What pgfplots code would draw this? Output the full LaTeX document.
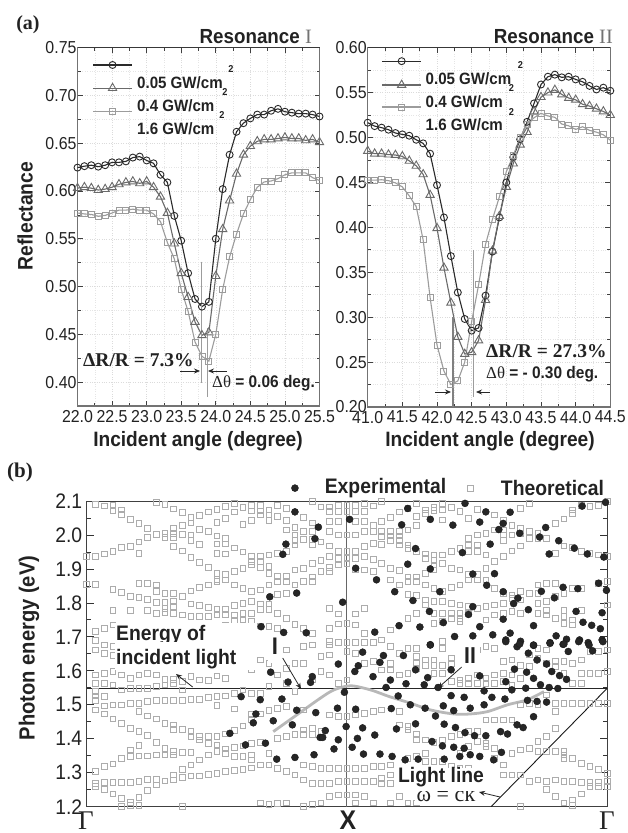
\documentclass[border=0pt]{standalone}
\usepackage{fontspec}
\setmainfont{Liberation Sans}
\newfontfamily\serif{Liberation Serif}
\newfontfamily\condb{Liberation Sans Bold}[FakeStretch=0.92]
\newfontfamily\condr{Liberation Sans}[FakeStretch=0.92]
\usepackage{pgfplots}
\pgfplotsset{compat=1.18}
\usetikzlibrary{arrows.meta}
\definecolor{ink}{HTML}{222222}
\definecolor{cA}{HTML}{2A2A2A}
\definecolor{cB}{HTML}{6A6A6A}
\definecolor{cC}{HTML}{9C9C9C}
\definecolor{sq}{HTML}{ACACAC}
\newcommand{\fs}[1]{\fontsize{#1}{#1}\selectfont}
\pgfplotsset{
 panelA/.style={
  scale only axis, anchor=south west, axis line style={draw=black!55,line width=1.1pt},
  tick style={black!75,line width=0.7pt}, major tick length=5pt, minor tick length=3pt,
  tick align=inside, minor x tick num=1, minor y tick num=1,
  grid=both, major grid style={black!14,dotted,line width=0.5pt}, minor grid style={black!10,dotted,line width=0.5pt},
  ticklabel style={text=ink,font=\condr\fs{17.3}}, 
  /pgf/number format/assume math mode=true,/pgf/number format/fixed,/pgf/number format/fixed zerofill,/pgf/number format/precision=1,
  xticklabel style={yshift=-0.5pt},
  y tick label style={/pgf/number format/precision=2,xshift=2.5pt},
  clip=false,
 },
 sA/.style={cA,line width=1.1pt,mark=o,mark size=3.5pt,mark options={fill=white,line width=0.9pt,solid}},
 sB/.style={cB,line width=1.1pt,mark=triangle,mark size=4.8pt,mark options={fill=white,line width=0.9pt,solid}},
 sC/.style={cC,line width=1.1pt,mark=square,mark size=3pt,mark options={fill=white,line width=0.9pt,solid}},
}
\begin{document}
\begin{tikzpicture}[x=1pt,y=1pt]
\path[use as bounding box] (0,0) rectangle (628,833);

% ------------------ panel a, resonance I
\begin{axis}[panelA,at={(77.5pt,427pt)},width=242pt,height=358.3pt,
 xmin=22,xmax=25.5,ymin=0.375,ymax=0.75,
 xtick={22,22.5,23,23.5,24,24.5,25,25.5},ytick={0.4,0.45,0.5,0.55,0.6,0.65,0.7,0.75}]
\addplot[sA] coordinates {(22.0,.6245)(22.1,.626)(22.2,.627)(22.3,.6255)(22.4,.627)(22.5,.63)(22.6,.630)(22.7,.631)(22.8,.635)(22.9,.636)(23.0,.632)(23.1,.629)(23.2,.617)(23.3,.609)(23.4,.574)(23.5,.548)(23.6,.514)(23.7,.487)(23.8,.479)(23.9,.484)(24.0,.55)(24.1,.602)(24.2,.638)(24.3,.662)(24.4,.671)(24.5,.676)(24.6,.68)(24.7,.68)(24.8,.684)(24.9,.686)(25.0,.683)(25.1,.682)(25.2,.681)(25.3,.681)(25.4,.68)(25.5,.678)};
\addplot[sB] coordinates {(22.0,.603)(22.1,.604)(22.2,.603)(22.3,.601)(22.4,.602)(22.5,.604)(22.6,.607)(22.7,.609)(22.8,.610)(22.9,.608)(23.0,.610)(23.1,.604)(23.2,.594)(23.3,.577)(23.4,.545)(23.5,.514)(23.6,.489)(23.7,.463)(23.8,.449)(23.9,.452)(24.0,.511)(24.1,.56)(24.2,.590)(24.3,.618)(24.4,.638)(24.5,.647)(24.6,.652)(24.7,.654)(24.8,.654)(24.9,.655)(25.0,.656)(25.1,.655)(25.2,.655)(25.3,.653)(25.4,.654)(25.5,.651)};
\addplot[sC] coordinates {(22.0,.577)(22.1,.576)(22.2,.5755)(22.3,.5735)(22.4,.5745)(22.5,.577)(22.6,.58)(22.7,.58)(22.8,.581)(22.9,.580)(23.0,.58)(23.1,.576)(23.2,.568)(23.3,.546)(23.4,.529)(23.5,.497)(23.6,.474)(23.7,.442)(23.8,.427)(23.9,.422)(24.0,.45)(24.1,.497)(24.2,.531)(24.3,.555)(24.4,.576)(24.5,.591)(24.6,.604)(24.7,.6095)(24.8,.6105)(24.9,.613)(25.0,.617)(25.1,.619)(25.2,.619)(25.3,.619)(25.4,.614)(25.5,.611)};
% guide lines
\addplot[cC,line width=1.1pt] coordinates {(23.79,.526)(23.79,.399)};
\addplot[cC,line width=1.1pt] coordinates {(23.88,.4565)(23.88,.384)};
% legend samples
\addplot[cA,line width=1.1pt] coordinates {(22.225,.7319)(22.79,.7319)};
\addplot[cB,line width=1.1pt] coordinates {(22.225,.7077)(22.79,.7077)};
\addplot[cC,line width=1.1pt] coordinates {(22.225,.6836)(22.79,.6836)};
\addplot[sA,only marks] coordinates {(22.507,.7319)};
\addplot[sB,only marks] coordinates {(22.507,.7077)};
\addplot[sC,only marks] coordinates {(22.507,.6836)};
\end{axis}
\draw[black!78,line width=0.9pt] (77.5,785.3) -- (319.5,785.3);

% ------------------ panel a, resonance II
\begin{axis}[panelA,at={(367.7pt,426pt)},width=242.6pt,height=359.3pt,
 xmin=41,xmax=44.5,ymin=0.2,ymax=0.6,
 xtick={41,41.5,42,42.5,43,43.5,44,44.5},ytick={0.2,0.25,0.3,0.35,0.4,0.45,0.5,0.55,0.6}]
\addplot[sA] coordinates {(41.0,.5165)(41.1,.5127)(41.2,.511)(41.3,.5087)(41.4,.505)(41.5,.5035)(41.6,.502)(41.7,.4975)(41.8,.4935)(41.9,.482)(42.0,.447)(42.1,.411)(42.2,.368)(42.3,.3275)(42.4,.298)(42.5,.285)(42.6,.288)(42.7,.324)(42.8,.373)(42.9,.411)(43.0,.45)(43.1,.478)(43.2,.498)(43.3,.5175)(43.4,.538)(43.5,.559)(43.6,.5677)(43.7,.57)(43.8,.567)(43.9,.5677)(44.0,.5647)(44.1,.562)(44.2,.5575)(44.3,.5535)(44.4,.5555)(44.5,.552)};
\addplot[sB] coordinates {(41.0,.485)(41.1,.482)(41.2,.482)(41.3,.481)(41.4,.4805)(41.5,.479)(41.6,.474)(41.7,.4685)(41.8,.459)(41.9,.436)(42.0,.399)(42.1,.355)(42.2,.316)(42.3,.278)(42.4,.259)(42.5,.261)(42.6,.274)(42.7,.319)(42.8,.374)(42.9,.4125)(43.0,.445)(43.1,.471)(43.2,.492)(43.3,.506)(43.4,.529)(43.5,.545)(43.6,.55)(43.7,.553)(43.8,.548)(43.9,.544)(44.0,.542)(44.1,.537)(44.2,.535)(44.3,.532)(44.4,.529)(44.5,.525)};
\addplot[sC] coordinates {(41.0,.4525)(41.1,.4525)(41.2,.453)(41.3,.452)(41.4,.4495)(41.5,.445)(41.6,.435)(41.7,.423)(41.8,.386)(41.9,.322)(42.0,.269)(42.1,.24)(42.2,.225)(42.3,.229)(42.4,.25)(42.5,.295)(42.6,.336)(42.7,.381)(42.8,.409)(42.9,.434)(43.0,.462)(43.1,.48)(43.2,.50)(43.3,.515)(43.4,.522)(43.5,.527)(43.6,.524)(43.7,.5225)(43.8,.515)(43.9,.513)(44.0,.509)(44.1,.512)(44.2,.508)(44.3,.506)(44.4,.503)(44.5,.497)};
\addplot[black!50,line width=1.1pt] coordinates {(42.23,.30)(42.23,.20)};
\addplot[cC,line width=1.1pt] coordinates {(42.53,.375)(42.53,.2115)};
\addplot[cA,line width=1.1pt] coordinates {(41.206,.585)(41.77,.585)};
\addplot[cB,line width=1.1pt] coordinates {(41.206,.5585)(41.77,.5585)};
\addplot[cC,line width=1.1pt] coordinates {(41.206,.534)(41.77,.534)};
\addplot[sA,only marks] coordinates {(41.49,.585)};
\addplot[sB,only marks] coordinates {(41.49,.5585)};
\addplot[sC,only marks] coordinates {(41.49,.534)};
\end{axis}
\draw[black!78,line width=0.9pt] (367.7,785.3) -- (610.3,785.3);

% ------------------ panel b
\begin{axis}[scale only axis,anchor=south west,at={(86.7pt,26.3pt)},width=520.6pt,height=305.7pt,
 xmin=0,xmax=60,ymin=1.2,ymax=2.1,
 axis line style={draw=black!75,line width=1pt},
 xtick=\empty,ytick={1.2,1.3,...,2.11},minor y tick num=1,
 tick align=inside,major tick length=7pt,minor tick length=4pt,tick style={black!80,line width=0.8pt},
 ticklabel style={text=ink,font=\condr\fs{21}},
 /pgf/number format/assume math mode=true,/pgf/number format/fixed,/pgf/number format/fixed zerofill,/pgf/number format/precision=1,
 y tick label style={xshift=-1pt},
]
\addplot[only marks,mark=square,mark size=2.85pt,sq,mark options={line width=0.75pt}] coordinates {
(0,1.938)(0,1.855)
(1,2.091)(1,1.938)(1,1.855)(1,1.716)(1,1.689)(1,1.662)(1,1.588)(1,1.564)(1,1.539)(1,1.526)(1,1.514)(1,1.485)(1,1.304)(1,1.269)(1,1.26)
(2,2.086)(2,1.944)(2,1.725)(2,1.676)(2,1.652)(2,1.593)(2,1.564)(2,1.524)(2,1.497)(2,1.473)(2,1.318)(2,1.271)(2,1.252)
(3,2.088)(3,2.073)(3,1.952)(3,1.84)(3,1.777)(3,1.735)(3,1.672)(3,1.645)(3,1.598)(3,1.559)(3,1.5)(3,1.459)(3,1.326)(3,1.271)(3,1.238)
(4,2.074)(4,2.061)(4,1.963)(4,1.83)(4,1.588)(4,1.544)(4,1.5)(4,1.446)(4,1.343)(4,1.271)(4,1.224)(4,1.201)
(5,2.046)(5,1.967)(5,1.82)(5,1.777)(5,1.578)(5,1.549)(5,1.505)(5,1.431)(5,1.367)(5,1.348)(5,1.271)(5,1.213)(5,1.203)
(6,2.034)(6,1.98)(6,1.946)(6,1.858)(6,1.816)(6,1.588)(6,1.549)(6,1.505)(6,1.48)(6,1.421)(6,1.38)(6,1.35)(6,1.274)(6,1.228)(6,1.203)
(7,2.02)(7,1.992)(7,1.858)(7,1.811)(7,1.777)(7,1.593)(7,1.549)(7,1.51)(7,1.467)(7,1.409)(7,1.35)(7,1.281)(7,1.248)
(8,2.096)(8,2.002)(8,1.853)(8,1.833)(8,1.801)(8,1.77)(8,1.588)(8,1.554)(8,1.512)(8,1.459)(8,1.389)(8,1.353)(8,1.281)(8,1.264)
(9,2.09)(9,2.005)(9,1.992)(9,1.828)(9,1.801)(9,1.784)(9,1.773)(9,1.575)(9,1.559)(9,1.512)(9,1.446)(9,1.372)(9,1.353)(9,1.276)
(10,2.077)(10,2.02)(10,2.005)(10,1.992)(10,1.966)(10,1.828)(10,1.804)(10,1.789)(10,1.77)(10,1.575)(10,1.564)(10,1.512)(10,1.441)(10,1.428)(10,1.363)(10,1.353)(10,1.294)(10,1.279)
(11,2.066)(11,2.029)(11,2.002)(11,1.953)(11,1.82)(11,1.765)(11,1.568)(11,1.544)(11,1.512)(11,1.428)(11,1.36)(11,1.309)(11,1.287)(11,1.201)
(12,2.051)(12,2.036)(12,2.0)(12,1.985)(12,1.934)(12,1.835)(12,1.797)(12,1.76)(12,1.583)(12,1.516)(12,1.421)(12,1.407)(12,1.36)(12,1.323)(12,1.291)
(13,2.058)(13,2.017)(13,1.973)(13,1.919)(13,1.846)(13,1.793)(13,1.76)(13,1.573)(13,1.516)(13,1.407)(13,1.397)(13,1.338)(13,1.291)
(14,2.068)(14,2.01)(14,1.905)(14,1.853)(14,1.787)(14,1.76)(14,1.571)(14,1.522)(14,1.407)(14,1.387)(14,1.353)(14,1.296)
(15,2.076)(15,2.037)(15,1.997)(15,1.974)(15,1.946)(15,1.887)(15,1.87)(15,1.863)(15,1.782)(15,1.765)(15,1.585)(15,1.524)(15,1.498)(15,1.407)(15,1.382)(15,1.363)(15,1.299)
(16,2.085)(16,2.049)(16,1.99)(16,1.974)(16,1.944)(16,1.885)(16,1.868)(16,1.782)(16,1.765)(16,1.735)(16,1.713)(16,1.578)(16,1.526)(16,1.414)(16,1.37)(16,1.358)(16,1.304)
(17,2.093)(17,2.068)(17,1.962)(17,1.892)(17,1.853)(17,1.793)(17,1.765)(17,1.745)(17,1.706)(17,1.534)(17,1.488)(17,1.424)(17,1.375)(17,1.348)(17,1.307)
(18,2.081)(18,2.032)(18,1.95)(18,1.902)(18,1.843)(18,1.799)(18,1.77)(18,1.75)(18,1.696)(18,1.544)(18,1.438)(18,1.379)(18,1.348)(18,1.309)
(19,2.088)(19,2.071)(19,2.042)(19,1.938)(19,1.922)(19,1.912)(19,1.833)(19,1.804)(19,1.77)(19,1.745)(19,1.603)(19,1.534)(19,1.456)(19,1.473)(19,1.387)(19,1.353)(19,1.338)(19,1.314)
(20,2.088)(20,2.071)(20,2.059)(20,1.938)(20,1.922)(20,1.904)(20,1.838)(20,1.797)(20,1.781)(20,1.732)(20,1.632)(20,1.534)(20,1.473)(20,1.39)(20,1.323)(20,1.211)
(21,2.074)(21,2.059)(21,2.042)(21,1.941)(21,1.907)(21,1.887)(21,1.853)(21,1.797)(21,1.781)(21,1.73)(21,1.622)(21,1.554)(21,1.483)(21,1.358)(21,1.323)(21,1.206)
(22,2.088)(22,2.054)(22,1.946)(22,1.879)(22,1.863)(22,1.825)(22,1.77)(22,1.725)(22,1.652)(22,1.588)(22,1.49)(22,1.402)(22,1.313)(22,1.209)
(23,2.078)(23,2.042)(23,2.015)(23,1.951)(23,1.879)(23,1.863)(23,1.828)(23,1.755)(23,1.662)(23,1.608)(23,1.564)(23,1.495)(23,1.407)(23,1.304)(23,1.211)
(24,2.023)(24,2.0)(24,1.985)(24,1.971)(24,1.897)(24,1.853)(24,1.737)(24,1.622)(24,1.539)(24,1.412)(24,1.294)
(25,2.051)(25,2.01)(25,1.987)(25,1.902)(25,1.863)(25,1.725)(25,1.671)(25,1.622)(25,1.485)(25,1.426)(25,1.412)(25,1.323)(25,1.279)(25,1.201)
(26,2.098)(26,2.036)(26,2.01)(26,1.987)(26,1.971)(26,1.917)(26,1.877)(26,1.863)(26,1.711)(26,1.676)(26,1.573)(26,1.431)(26,1.412)(26,1.318)(26,1.269)(26,1.206)
(27,2.083)(27,1.98)(27,1.926)(27,1.892)(27,1.642)(27,1.598)(27,1.421)(27,1.313)(27,1.269)(27,1.211)
(28,2.083)(28,2.069)(28,2.039)(28,2.01)(28,1.968)(28,1.938)(28,1.905)(28,1.892)(28,1.784)(28,1.725)(28,1.686)(28,1.676)(28,1.647)(28,1.588)(28,1.47)(28,1.313)(28,1.269)(28,1.23)
(29,2.088)(29,2.069)(29,2.039)(29,2.0)(29,1.951)(29,1.931)(29,1.912)(29,1.768)(29,1.738)(29,1.683)(29,1.564)(29,1.465)(29,1.313)(29,1.274)(29,1.235)
(30,2.088)(30,2.069)(30,2.0)(30,1.951)(30,1.931)(30,1.917)(30,1.74)(30,1.683)(30,1.657)(30,1.573)(30,1.465)(30,1.313)(30,1.274)(30,1.235)
(31,2.088)(31,2.069)(31,2.039)(31,2.0)(31,1.951)(31,1.931)(31,1.897)(31,1.768)(31,1.735)(31,1.683)(31,1.652)(31,1.47)(31,1.313)(31,1.274)(31,1.235)(31,1.211)
(32,2.093)(32,2.069)(32,2.039)(32,2.01)(32,1.966)(32,1.936)(32,1.897)(32,1.784)(32,1.711)(32,1.683)(32,1.622)(32,1.475)(32,1.313)(32,1.274)(32,1.23)
(33,2.086)(33,2.029)(33,2.01)(33,1.975)(33,1.928)(33,1.892)(33,1.683)(33,1.627)(33,1.48)(33,1.318)(33,1.274)(33,1.211)
(34,2.098)(34,2.041)(34,2.01)(34,1.995)(34,1.973)(34,1.917)(34,1.691)(34,1.603)(34,1.485)(34,1.318)(34,1.284)(34,1.269)
(35,2.052)(35,2.01)(35,1.997)(35,1.985)(35,1.902)(35,1.868)(35,1.721)(35,1.672)(35,1.622)(35,1.603)(35,1.323)(35,1.294)(35,1.269)(35,1.211)
(36,2.068)(36,2.01)(36,1.997)(36,1.985)(36,1.971)(36,1.895)(36,1.853)(36,1.652)(36,1.588)(36,1.48)(36,1.441)(36,1.269)(36,1.23)
(37,2.078)(37,2.015)(37,1.971)(37,1.961)(37,1.877)(37,1.863)(37,1.825)(37,1.755)(37,1.666)(37,1.593)(37,1.436)(37,1.426)(37,1.343)(37,1.299)(37,1.269)(37,1.211)
(38,2.093)(38,2.054)(38,2.029)(38,1.951)(38,1.877)(38,1.863)(38,1.823)(38,1.77)(38,1.666)(38,1.642)(38,1.622)(38,1.608)(38,1.412)(38,1.399)(38,1.348)(38,1.299)(38,1.269)(38,1.211)
(39,2.074)(39,2.064)(39,1.944)(39,1.931)(39,1.887)(39,1.853)(39,1.809)(39,1.794)(39,1.632)(39,1.617)(39,1.397)(39,1.358)(39,1.333)(39,1.279)(39,1.245)
(40,2.081)(40,2.072)(40,1.941)(40,1.926)(40,1.912)(40,1.897)(40,1.843)(40,1.804)(40,1.77)(40,1.74)(40,1.632)(40,1.617)(40,1.593)(40,1.389)(40,1.333)(40,1.299)(40,1.255)
(41,2.093)(41,2.074)(41,2.044)(41,1.941)(41,1.917)(41,1.833)(41,1.804)(41,1.77)(41,1.745)(41,1.686)(41,1.666)(41,1.617)(41,1.593)(41,1.397)(41,1.333)(41,1.304)(41,1.269)
(42,2.081)(42,1.951)(42,1.902)(42,1.846)(42,1.799)(42,1.77)(42,1.755)(42,1.637)(42,1.622)(42,1.568)(42,1.407)(42,1.318)(42,1.284)
(43,2.069)(43,1.961)(43,1.897)(43,1.853)(43,1.794)(43,1.77)(43,1.755)(43,1.745)(43,1.573)(43,1.564)(43,1.412)(43,1.358)(43,1.313)
(44,2.049)(44,1.99)(44,1.971)(44,1.951)(44,1.885)(44,1.868)(44,1.789)(44,1.77)(44,1.652)(44,1.578)(44,1.564)(44,1.421)(44,1.377)(44,1.313)
(45,2.075)(45,2.0)(45,1.971)(45,1.951)(45,1.885)(45,1.868)(45,1.784)(45,1.662)(45,1.588)(45,1.564)(45,1.421)(45,1.392)
(46,2.005)(46,1.941)(46,1.902)(46,1.868)(46,1.789)(46,1.75)(46,1.671)(46,1.578)(46,1.564)(46,1.456)(46,1.387)(46,1.377)
(47,2.059)(47,2.015)(47,1.922)(47,1.843)(47,1.794)(47,1.765)(47,1.666)(47,1.588)(47,1.564)(47,1.456)(47,1.372)(47,1.343)
(48,2.044)(48,2.015)(48,2.0)(48,1.985)(48,1.936)(48,1.828)(48,1.799)(48,1.77)(48,1.627)(48,1.593)(48,1.568)(48,1.456)(48,1.323)(48,1.294)
(49,2.029)(49,2.0)(49,1.953)(49,1.824)(49,1.814)(49,1.775)(49,1.632)(49,1.588)(49,1.559)(49,1.456)(49,1.358)(49,1.294)
(50,2.078)(50,2.02)(50,2.005)(50,1.968)(50,1.833)(50,1.809)(50,1.77)(50,1.617)(50,1.578)(50,1.5)(50,1.367)(50,1.294)(50,1.201)
(51,2.093)(51,2.01)(51,1.99)(51,1.828)(51,1.647)(51,1.613)(51,1.505)(51,1.372)(51,1.274)
(52,2.005)(52,1.99)(52,1.853)(52,1.828)(52,1.799)(52,1.77)(52,1.666)(52,1.637)(52,1.5)(52,1.392)(52,1.363)(52,1.279)
(53,1.99)(53,1.858)(53,1.804)(53,1.779)(53,1.765)(53,1.662)(53,1.622)(53,1.529)(53,1.407)(53,1.363)(53,1.274)(53,1.25)
(54,2.034)(54,1.946)(54,1.858)(54,1.819)(54,1.755)(54,1.627)(54,1.613)(54,1.505)(54,1.48)(54,1.431)(54,1.363)(54,1.279)(54,1.23)
(55,2.047)(55,1.968)(55,1.828)(55,1.779)(55,1.76)(55,1.74)(55,1.627)(55,1.593)(55,1.505)(55,1.363)(55,1.353)(55,1.343)(55,1.274)(55,1.211)
(56,2.074)(56,2.064)(56,1.964)(56,1.843)(56,1.75)(56,1.735)(56,1.622)(56,1.564)(56,1.505)(56,1.343)(56,1.274)(56,1.22)(56,1.203)
(57,2.088)(57,1.951)(57,1.843)(57,1.777)(57,1.632)(57,1.593)(57,1.564)(57,1.505)(57,1.328)(57,1.271)(57,1.238)
(58,2.085)(58,1.946)(58,1.657)(58,1.593)(58,1.505)(58,1.318)(58,1.271)(58,1.26)
(59,2.088)(59,1.941)(59,1.858)(59,1.657)(59,1.593)(59,1.505)(59,1.31)(59,1.271)(59,1.26)
(60,2.098)(60,1.936)(60,1.863)(60,1.794)(60,1.662)(60,1.598)(60,1.505)(60,1.299)(60,1.274)(60,1.26)
};
% vertical line at X, energy of incident light, light line, gray guide curve
\addplot[black!60,line width=0.9pt] coordinates {(29.9,1.2)(29.9,2.1)};
\addplot[black!85,line width=1.1pt] coordinates {(0,1.549)(60,1.549)};
\addplot[black!90,line width=0.9pt] coordinates {(46.6,1.2)(60,1.549)};
\addplot[black!28,line width=2.8pt,smooth] coordinates {(21.5,1.421)(24.2,1.47)(26.9,1.519)(28.5,1.544)(30.4,1.556)(32.7,1.544)(34.9,1.524)(37.3,1.505)(39.6,1.485)(42.3,1.473)(44.2,1.473)(46.2,1.48)(48.5,1.5)(50.8,1.515)(52.7,1.539)};
\addplot[only marks,mark=*,mark size=3.5pt,black!90,mark options={fill=black!85,draw=black!90}] coordinates {
(24,2.068)(22.96,1.973)(22.6,1.943)(26.3,1.989)(26.7,2.023)(21.1,1.818)(24.2,1.829)(20.1,1.73)(22.7,1.713)(25.3,1.712)
(30.3,2.046)(29.5,1.802)(31,1.902)(33.4,1.868)(35.5,1.833)(37.6,1.807)(33.2,1.714)(36,1.733)(38.4,1.729)(39.5,1.775)(41.1,1.742)(39.6,1.677)(42.4,1.701)(44.5,1.703)(45.3,1.73)(44,1.766)(44.5,1.789)(44.5,1.885)(40.7,1.833)(39.6,1.9)(37,1.914)(37.9,1.96)(36.3,2.03)(37,2.078)(39.6,2.046)(42.2,2.029)(43.3,1.948)(43.6,2.093)(46,2.068)(45.3,2.038)(48.8,2.067)(48,2.034)(47.5,2.016)(46.5,1.973)(47,1.886)(46.1,1.852)(48,1.833)(48,1.752)(46.8,1.706)(48.8,1.711)(48.3,1.691)(50,1.687)(51.5,1.675)(49.7,1.814)(49.2,1.798)(50.9,1.78)(51.5,1.733)(52.4,1.834)(53.9,1.815)(54.9,1.846)(56.6,1.842)(59,1.858)(59.9,1.837)(56.4,1.775)(59.4,1.771)(57.2,1.743)(58.2,1.734)(59.2,1.724)(54.1,1.703)(55.3,1.693)(56.8,1.691)(57.8,1.683)(59.4,1.691)(53.4,1.683)(54.9,1.678)(49.9,2.005)(52.2,1.994)(52.9,2.022)(54.4,1.983)(53.3,1.944)(56.2,1.961)(57.7,1.944)(59.6,1.935)(57.1,2.085)(59.8,2.096)
(21.2,1.596)(23.2,1.567)(26,1.583)(25.8,1.566)(17.8,1.524)(20,1.515)(22.5,1.517)(24.2,1.484)(19.5,1.473)(26.4,1.477)(19.2,1.447)(21.5,1.453)(23.7,1.441)(16.5,1.416)(18.3,1.382)(20.6,1.387)(21.9,1.34)(24,1.345)(26.2,1.353)(26.9,1.404)
(29.7,1.537)(28.9,1.49)(31,1.487)(35.1,1.489)(29.9,1.436)(31.8,1.432)(27.5,1.424)(27.2,1.404)(29,1.397)(31.2,1.401)(30.6,1.375)(28.5,1.37)(31.9,1.355)(33.2,1.411)(33.8,1.355)(35.2,1.348)(35.7,1.429)(37.9,1.444)(36.7,1.338)(38.2,1.34)(41.2,1.34)(39.8,1.392)(41,1.379)(42.3,1.375)(43.5,1.372)(43,1.348)(44.2,1.353)(45.3,1.348)(46.9,1.338)(47.8,1.36)
(29,1.62)(31.3,1.615)(30.9,1.598)(31.8,1.655)(34.2,1.645)(33.8,1.625)(36.5,1.645)(33,1.583)(35,1.573)(34.5,1.551)(36.8,1.562)(37.9,1.603)(39.3,1.58)(38.9,1.559)(42,1.603)(40.5,1.551)(45.3,1.585)(48.3,1.568)(49,1.544)(50.6,1.549)(49.3,1.605)(50.7,1.596)(51.5,1.578)(52.3,1.559)(53.3,1.551)(54.3,1.548)(53.6,1.598)(54.5,1.586)(55.3,1.575)(53,1.62)(51.9,1.632)(50.9,1.652)(49.6,1.671)(48.3,1.686)(55.5,1.657)(58.3,1.659)(51.5,1.676)(49.9,1.679)(53.4,1.681)(55,1.679)(56.7,1.686)(57.9,1.676)(59.5,1.686)(39.6,1.676)
(35.9,1.526)(37.3,1.5)(39,1.49)(40.2,1.467)(41.1,1.497)(42.3,1.483)(42,1.527)(43.5,1.522)(44.2,1.49)(45.8,1.5)(45.8,1.541)(46.7,1.522)(48.2,1.517)(50.8,1.513)(51.9,1.51)(53,1.508)(51.5,1.465)(49.6,1.441)(50.3,1.433)(47.7,1.421)(48.5,1.414)(46,1.409)(44.7,1.409)(43.6,1.418)(42.5,1.433)(41.2,1.443)
};
\end{axis}
% legend markers of panel b, above the frame
\begin{axis}[scale only axis,anchor=south west,at={(86.7pt,26.3pt)},width=520.6pt,height=305.7pt,
 xmin=0,xmax=60,ymin=1.2,ymax=2.1,axis lines=none,clip=false]
\addplot[only marks,mark=*,mark size=3.5pt,black!90,mark options={fill=black!85}] coordinates {(24,2.138)};
\addplot[only marks,mark=square,mark size=2.85pt,sq,mark options={line width=0.75pt}] coordinates {(44.2,2.138)};
\end{axis}

% ------------------ white patches and text of panel b
\fill[white] (115,165) rectangle (257,210);
\fill[white] (415,28) rectangle (478,46);
\fill[white] (268,170) rectangle (282,196);
\fill[white] (460,166) rectangle (480,192);
\begin{scope}[text=ink,inner sep=0pt]
\node[anchor=base,font=\serif\fs{22}] at (446,31) {ω = ck};
\fill[white] (395,42) rectangle (487,65);
\node[font=\condb\fs{21}] at (441,56) {Light line};
\node[anchor=base west,font=\condb\fs{21}] at (116,192) {Energy of};
\fill[white] (115,163) rectangle (257,191);
\node[anchor=base west,font=\condb\fs{21}] at (116,168) {incident light};
\node[font=\condb\fs{24}] at (275,187) {I};
\node[font=\condb\fs{23}] at (470,177.5) {II};
\node[font=\condb\fs{21}] at (385.5,345) {Experimental};
\node[font=\condb\fs{21}] at (552.5,345) {Theoretical};
\node[anchor=base,font=\serif\fs{27}] at (86,3) {Γ};
\node[anchor=base,font=\serif\fs{27}] at (607,3) {Γ};
\node[anchor=base,font=\condb\fs{27}] at (348,3) {X};
\node[rotate=90,font=\condb\fs{21.9}] at (29,185) {Photon energy (eV)};
\node[rotate=90,font=\condb\fs{21}] at (25,617) {Reflectance};
\node[font=\condb\fs{20.8}] at (198,392) {Incident angle (degree)};
\node[font=\condb\fs{20.8}] at (490,392) {Incident angle (degree)};
\node[font=\serif\bfseries\fs{20}] at (28,808) {(a)};
\node[font=\serif\bfseries\fs{21}] at (20,361) {(b)};
\node[anchor=east,font=\condb\fs{20.4}] at (312,796) {Resonance \textcolor{black!55}{\serif I}};
\node[anchor=east,font=\condb\fs{20.4}] at (613,796) {Resonance \textcolor{black!55}{\serif II}};
% legends of panel a
\node[anchor=west,font=\condb\fs{16.4}] at (137,750) {0.05 GW/cm};
\node[anchor=west,font=\condb\fs{16.4}] at (137,727) {0.4 GW/cm};
\node[anchor=west,font=\condb\fs{16.4}] at (137,704) {1.6 GW/cm};
\node[font=\condb\fs{10}] at (231,764) {2};
\node[font=\condb\fs{10}] at (225,741) {2};
\node[font=\condb\fs{10}] at (222,718) {2};
\node[anchor=west,font=\condb\fs{16.4}] at (425.5,754) {0.05 GW/cm};
\node[anchor=west,font=\condb\fs{16.4}] at (425.5,731) {0.4 GW/cm};
\node[anchor=west,font=\condb\fs{16.4}] at (425.5,708) {1.6 GW/cm};
\node[font=\condb\fs{10}] at (520.5,768) {2};
\node[font=\condb\fs{10}] at (511.5,745) {2};
\node[font=\condb\fs{10}] at (511.5,721) {2};
% annotations of panel a
\node[anchor=west,font=\serif\bfseries\fs{19.5}] at (83,473) {ΔR/R = 7.3\%};
\node[anchor=west,font=\condb\fs{16.8}] at (212,450) {{\serif Δθ} = 0.06 deg.};
\node[anchor=west,font=\serif\bfseries\fs{19.5}] at (486,482) {ΔR/R = 27.3\%};
\node[anchor=west,font=\condb\fs{16.8}] at (486,459) {{\serif Δθ} = - 0.30 deg.};
\end{scope}
\begin{scope}[-{Stealth[length=6pt,width=5pt]},black!85,line width=0.8pt]
\draw (180,462) -- (200,462);
\draw (227,462) -- (208,462);
\draw (435,441) -- (451,441);
\draw (490,441) -- (476,441);
\draw (282.7,175) -- (301,144);
\draw (192.7,146) -- (176,159);
\draw (461.7,166) -- (438,145);
\draw (500,36) -- (479,41);
\end{scope}
\end{tikzpicture}
\end{document}
